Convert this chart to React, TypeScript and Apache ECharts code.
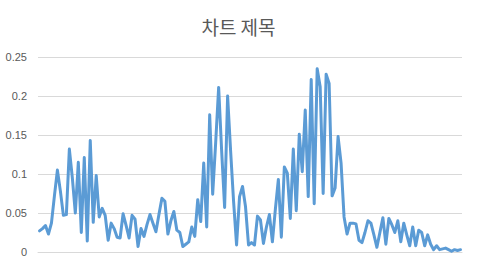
import React, { useEffect, useRef } from "react";
import * as echarts from "echarts";

const TITLE = "차트 제목";
const Y_TICKS = [0, 0.05, 0.1, 0.15, 0.2, 0.25];

const VALUES = [
  0.027, 0.03, 0.034, 0.023, 0.037, 0.072, 0.105, 0.078, 0.047, 0.048,
  0.132, 0.095, 0.05, 0.115, 0.025, 0.121, 0.014, 0.143, 0.038, 0.098,
  0.045, 0.056, 0.047, 0.015, 0.037, 0.03, 0.019, 0.018, 0.049, 0.034,
  0.018, 0.047, 0.042, 0.007, 0.03, 0.02, 0.035, 0.048, 0.037, 0.026,
  0.048, 0.069, 0.065, 0.023, 0.04, 0.052, 0.028, 0.025, 0.007, 0.01,
  0.013, 0.032, 0.02, 0.067, 0.039, 0.114, 0.032, 0.176, 0.074, 0.14,
  0.211, 0.13, 0.057, 0.2, 0.13, 0.065, 0.009, 0.071, 0.084, 0.058,
  0.009, 0.012, 0.009, 0.046, 0.041, 0.011, 0.032, 0.048, 0.013, 0.055,
  0.093, 0.019, 0.109, 0.101, 0.043, 0.132, 0.053, 0.151, 0.103, 0.182,
  0.071, 0.221, 0.062, 0.235, 0.212, 0.075, 0.228, 0.216, 0.072, 0.082,
  0.148, 0.114, 0.045, 0.023, 0.037, 0.037, 0.036, 0.015, 0.012, 0.025,
  0.04, 0.037, 0.022, 0.006, 0.025, 0.044, 0.01, 0.043, 0.035, 0.025,
  0.04, 0.013, 0.037, 0.022, 0.008, 0.032, 0.008, 0.028, 0.025, 0.008,
  0.022, 0.01, 0.003, 0.008, 0.003, 0.004, 0.005, 0.003, 0.001, 0.003,
  0.002, 0.003,
];

const CATEGORIES = VALUES.map((_, i) => String(i + 1));

export default function App() {
  const ref = useRef<HTMLDivElement>(null);
  useEffect(() => {
    if (!ref.current) return;
    const chart = echarts.init(ref.current, null, { renderer: "svg" });
    chart.setOption({
      animation: false,
      backgroundColor: "#ffffff",
      title: {
        text: TITLE,
        left: "center",
        top: 12,
        textStyle: {
          fontFamily: "Noto Sans CJK KR",
          fontSize: 19,
          fontWeight: "normal",
          color: "#595959",
        },
      },
      grid: { left: 38, right: 15, top: 57, bottom: 7 },
      xAxis: {
        type: "category",
        data: CATEGORIES,
        boundaryGap: true,
        axisLine: { show: true, lineStyle: { color: "#D9D9D9", width: 1 } },
        axisTick: { show: false },
        axisLabel: { show: false },
        splitLine: { show: false },
      },
      yAxis: {
        type: "value",
        min: Y_TICKS[0],
        max: Y_TICKS[Y_TICKS.length - 1],
        interval: 0.05,
        axisLine: { show: false },
        axisTick: { show: false },
        axisLabel: {
          margin: 11,
          fontFamily: "Liberation Sans",
          fontSize: 11,
          color: "#595959",
          formatter: (v: number) => String(Math.round(v * 100) / 100),
        },
        splitLine: { lineStyle: { color: "#D9D9D9", width: 1 } },
      },
      series: [
        {
          type: "line",
          data: VALUES,
          showSymbol: false,
          symbol: "none",
          lineStyle: { color: "#5B9BD5", width: 3, join: "round", cap: "round" },
          itemStyle: { color: "#5B9BD5" },
        },
      ],
    });
    return () => chart.dispose();
  }, []);
  return <div ref={ref} style={{ width: 477, height: 259, position: "absolute", left: 0, top: 0 }} />;
}
